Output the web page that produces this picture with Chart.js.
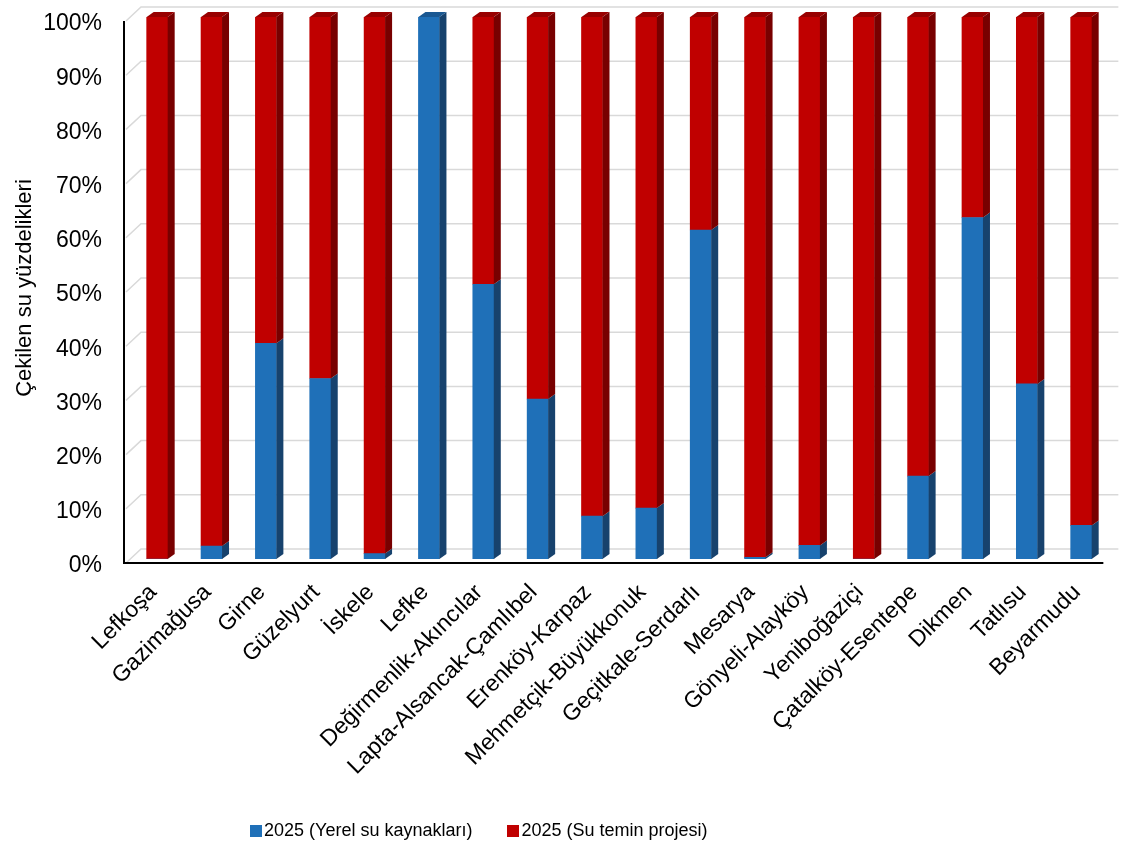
<!DOCTYPE html>
<html lang="tr">
<head>
<meta charset="utf-8">
<title>Çekilen su yüzdelikleri</title>
<script src="https://cdn.jsdelivr.net/npm/chart.js@4.4.1/dist/chart.umd.min.js"></script>
<style>
  html, body { margin: 0; padding: 0; background: #fff; }
  #wrap { width: 1121px; height: 848px; position: relative; }
  #legend {
    position: absolute; left: 250px; top: 820px;
    display: flex; align-items: center; gap: 35px;
    font-family: "Liberation Sans", Arial, sans-serif; font-size: 18px; color: #000;
  }
  #legend span.item { display: flex; align-items: center; }
  #legend i { display: inline-block; width: 12px; height: 12px; margin-right: 2px; }
</style>
</head>
<body>
<div id="wrap"><canvas id="chart"></canvas><div id="legend"></div></div>
<script>
// Bölgeler ve çekilen su payları (%)
const districts = [
  'Lefkoşa', 'Gazimağusa', 'Girne', 'Güzelyurt', 'İskele', 'Lefke',
  'Değirmenlik-Akıncılar', 'Lapta-Alsancak-Çamlıbel', 'Erenköy-Karpaz',
  'Mehmetçik-Büyükkonuk', 'Geçitkale-Serdarlı', 'Mesarya', 'Gönyeli-Alayköy',
  'Yeniboğaziçi', 'Çatalköy-Esentepe', 'Dikmen', 'Tatlısu', 'Beyarmudu'
];
const localShare   = [0, 2.4, 39.8, 33.3, 1.0, 100, 50.7, 29.5, 7.9, 9.4, 60.7, 0.3, 2.5, 0, 15.3, 63.0, 32.3, 6.2];
const projectShare = [100, 97.6, 60.2, 66.7, 99.0, 0, 49.3, 70.5, 92.1, 90.6, 39.3, 99.7, 97.5, 100, 84.7, 37.0, 67.7, 93.8];
const yTickValues  = [0, 10, 20, 30, 40, 50, 60, 70, 80, 90, 100];

const FONT = '"Liberation Sans", Arial, sans-serif';

// 3B görünüm: sütun derinliği ve arka duvar kayması
const DX = 7, DY = -5;
const WX = 17, WY = -14;
const FRONT = 4; // ön düzlem, sütunların 4 px altında

const faceColors = [
  { side: '#17426d', top: '#1a5892' },
  { side: '#780000', top: '#980000' }
];

const depth3d = {
  id: 'depth3d',
  beforeDatasetsDraw(chart) {
    const { ctx, chartArea: a, scales: { y } } = chart;
    const axisX = a.left - 6;
    ctx.save();
    ctx.strokeStyle = '#d9d9d9';
    ctx.lineWidth = 1.5;
    yTickValues.forEach(v => {
      const py = y.getPixelForValue(v) + FRONT;
      ctx.beginPath();
      ctx.moveTo(axisX + 2, py);
      ctx.lineTo(axisX + WX, py + WY);
      ctx.lineTo(a.right + 10, py + WY);
      ctx.stroke();
    });
    ctx.restore();
  },
  afterDatasetsDraw(chart) {
    const { ctx, chartArea: a, scales: { y } } = chart;
    ctx.save();
    const n = chart.data.labels.length;
    for (let j = 0; j < n; j++) {
      let topIdx = -1;
      chart.data.datasets.forEach((ds, i) => { if (ds.data[j] > 0) topIdx = i; });
      chart.data.datasets.forEach((ds, i) => {
        const bar = chart.getDatasetMeta(i).data[j];
        const { x, y: top, base, width } = bar.getProps(['x', 'y', 'base', 'width'], true);
        if (Math.abs(base - top) < 0.5) return;
        const l = x - width / 2, r = x + width / 2;
        ctx.fillStyle = faceColors[i].side;
        ctx.beginPath();
        ctx.moveTo(r, top);
        ctx.lineTo(r + DX, top + DY);
        ctx.lineTo(r + DX, base + DY);
        ctx.lineTo(r, base);
        ctx.closePath();
        ctx.fill();
        if (i === topIdx) {
          ctx.fillStyle = faceColors[i].top;
          ctx.beginPath();
          ctx.moveTo(l, top);
          ctx.lineTo(l + DX, top + DY);
          ctx.lineTo(r + DX, top + DY);
          ctx.lineTo(r, top);
          ctx.closePath();
          ctx.fill();
        }
      });
    }
    // eksen çizgileri
    const axisX = a.left - 6;
    const y0 = y.getPixelForValue(0) + FRONT;
    const y100 = y.getPixelForValue(100) + FRONT;
    ctx.strokeStyle = '#000';
    ctx.lineWidth = 2;
    ctx.beginPath();
    ctx.moveTo(axisX, y100);
    ctx.lineTo(axisX, y0);
    ctx.lineTo(a.right - 5, y0);
    ctx.stroke();
    ctx.restore();
  }
};

const chart = new Chart(document.getElementById('chart'), {
  type: 'bar',
  data: {
    labels: districts,
    datasets: [
      { label: '2025 (Yerel su kaynakları)', data: localShare, backgroundColor: '#1f70b8' },
      { label: '2025 (Su temin projesi)', data: projectShare, backgroundColor: '#c00000' }
    ]
  },
  options: {
    responsive: true,
    maintainAspectRatio: false,
    animation: false,
    datasets: { bar: { barThickness: 21 } },
    layout: { padding: { top: 17, right: 11, left: 0, bottom: 50 } },
    plugins: {
      tooltip: { enabled: false },
      legend: { display: false }
    },
    scales: {
      x: {
        stacked: true,
        grid: { display: false, drawTicks: false },
        border: { display: false },
        ticks: {
          autoSkip: false,
          maxRotation: 45,
          minRotation: 45,
          padding: 20,
          labelOffset: -4,
          color: '#000',
          font: { family: FONT, size: 23 }
        },
        afterFit(scale) { scale.height = 239; }
      },
      y: {
        stacked: true,
        min: 0,
        max: 100,
        grid: { display: false, drawTicks: false },
        border: { display: false },
        ticks: {
          stepSize: 10,
          padding: 28,
          labelOffset: 7,
          color: '#000',
          font: { family: FONT, size: 23 },
          callback: v => v + '%'
        },
        title: {
          display: true,
          text: 'Çekilen su yüzdelikleri',
          color: '#000',
          font: { family: FONT, size: 22 },
          padding: { top: 12, bottom: 0 }
        },
        afterFit(scale) {
          scale.width = 130;
          scale.paddingTop = 0;
          scale.paddingBottom = 0;
        }
      }
    }
  },
  plugins: [depth3d]
});

// Açıklama (legend)
const legendBox = document.getElementById('legend');
chart.data.datasets.forEach(ds => {
  const item = document.createElement('span');
  item.className = 'item';
  item.innerHTML = `<i style="background:${ds.backgroundColor}"></i>${ds.label}`;
  legendBox.appendChild(item);
});
</script>
</body>
</html>
